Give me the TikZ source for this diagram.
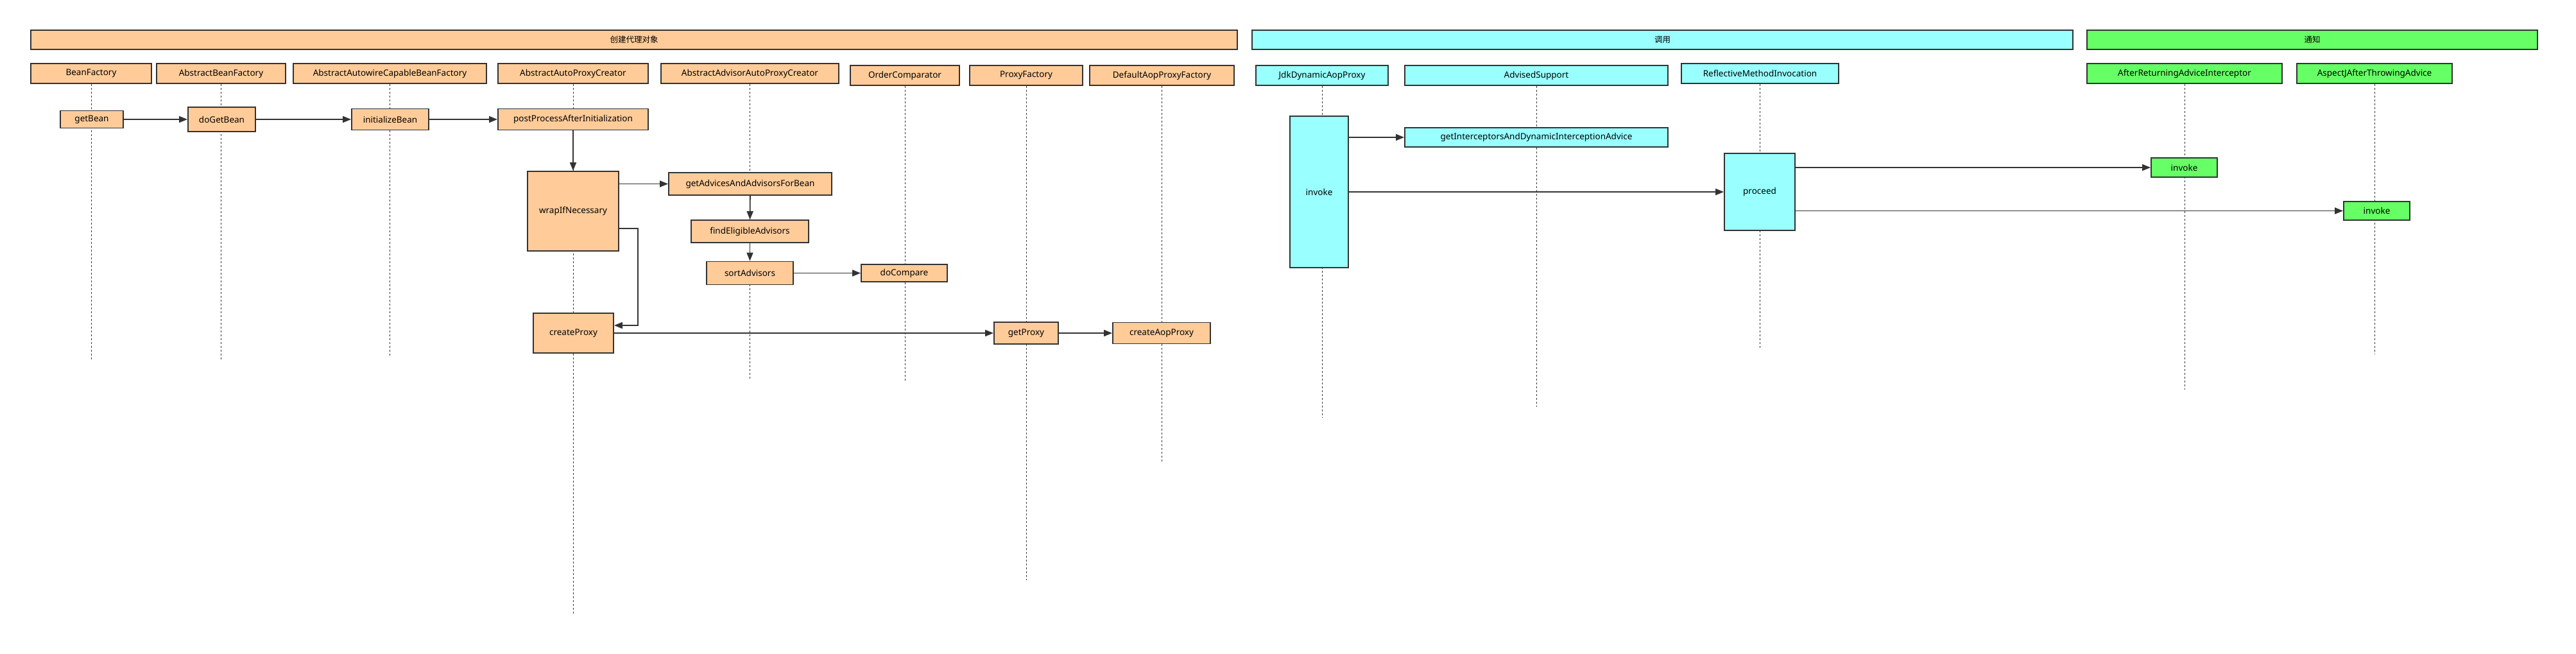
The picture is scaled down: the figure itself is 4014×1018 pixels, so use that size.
\documentclass[tikz,border=0pt]{standalone}
\usepackage{fontspec}
\setmainfont{Noto Sans}
\newfontfamily\cjk{Noto Sans CJK SC}
\usetikzlibrary{arrows.meta}
\definecolor{org}{HTML}{FFCC99}
\definecolor{cyn}{HTML}{99FFFF}
\definecolor{grn}{HTML}{66FF66}
\definecolor{ln}{HTML}{333333}

\begin{document}
\begin{tikzpicture}[
  x=1pt,y=-1pt,
  >={Triangle[length=13pt,width=10pt]},
  box/.style={draw=ln,line width=1.8pt,inner sep=0pt,align=center,
              font=\fontsize{13.5}{15}\selectfont},
  bar/.style={box,minimum height=30,font=\cjk\fontsize{12.5}{15}\selectfont},
  hdr/.style={box,minimum height=31},
  arr/.style={->,draw=ln,line width=1.8pt},
  life/.style={draw=ln,line width=1pt,dash pattern=on 3pt off 3pt}
]
\useasboundingbox (0,0) rectangle (4014,1018);
% section bars
\node[bar,fill=org,minimum width=1880] (tCreate) at (988,62) {创建代理对象};
\node[bar,fill=cyn,minimum width=1279] (tCall) at (2590.5,62) {调用};
\node[bar,fill=grn,minimum width=702] (tAdvice) at (3603,62) {通知};
% lifeline heads
\node[hdr,fill=org,minimum width=188] (bf) at (142,114.5) {BeanFactory};
\node[hdr,fill=org,minimum width=201] (abf) at (344.5,114.5) {AbstractBeanFactory};
\node[hdr,fill=org,minimum width=301] (aacbf) at (607.5,114.5) {AbstractAutowireCapableBeanFactory};
\node[hdr,fill=org,minimum width=234] (aapc) at (893,114.5) {AbstractAutoProxyCreator};
\node[hdr,fill=org,minimum width=277] (aaapc) at (1168.5,114.5) {AbstractAdvisorAutoProxyCreator};
\node[hdr,fill=org,minimum width=170] (oc) at (1410,117.5) {OrderComparator};
\node[hdr,fill=org,minimum width=176] (pf) at (1599,117.5) {ProxyFactory};
\node[hdr,fill=org,minimum width=225] (dapf) at (1810.5,117.5) {DefaultAopProxyFactory};
\node[hdr,fill=cyn,minimum width=206] (jdk) at (2060,117.5) {JdkDynamicAopProxy};
\node[hdr,fill=cyn,minimum width=410] (as) at (2394,117.5) {AdvisedSupport};
\node[hdr,fill=cyn,minimum width=245] (rmi) at (2742.5,114.5) {ReflectiveMethodInvocation};
\node[hdr,fill=grn,minimum width=304] (arai) at (3404,114.5) {AfterReturningAdviceInterceptor};
\node[hdr,fill=grn,minimum width=242] (ajata) at (3700,114.5) {AspectJAfterThrowingAdvice};
% lifelines
\coordinate (bfE) at (142,561);
\coordinate (abfE) at (344.5,561);
\coordinate (aacbfE) at (607.5,556);
\coordinate (aapcE) at (893,956);
\coordinate (aaapcE) at (1168.5,592);
\coordinate (ocE) at (1410,595);
\coordinate (pfE) at (1599,904);
\coordinate (dapfE) at (1810.5,719);
\coordinate (jdkE) at (2060,650);
\coordinate (asE) at (2394,634);
\coordinate (rmiE) at (2742.5,542);
\coordinate (araiE) at (3404,607);
\coordinate (ajataE) at (3700,552);
\draw[life] (bf) -- (bfE);
\draw[life] (abf) -- (abfE);
\draw[life] (aacbf) -- (aacbfE);
\draw[life] (aapc) -- (aapcE);
\draw[life] (aaapc) -- (aaapcE);
\draw[life] (oc) -- (ocE);
\draw[life] (pf) -- (pfE);
\draw[life] (dapf) -- (dapfE);
\draw[life] (jdk) -- (jdkE);
\draw[life] (as) -- (asE);
\draw[life] (rmi) -- (rmiE);
\draw[life] (arai) -- (araiE);
\draw[life] (ajata) -- (ajataE);
% creating the proxy
\node[box,fill=org,minimum width=98,minimum height=27] (getBean) at (143,186) {getBean};
\node[box,fill=org,minimum width=105,minimum height=38] (doGetBean) at (345.5,186) {doGetBean};
\node[box,fill=org,minimum width=120,minimum height=33] (initBean) at (608,186) {initializeBean};
\node[box,fill=org,minimum width=234,minimum height=33] (postProc) at (893,186) {postProcessAfterInitialization};
\node[box,fill=org,minimum width=142,minimum height=124] (wrap) at (893,329) {wrapIfNecessary};
\node[box,fill=org,minimum width=254,minimum height=35] (getAdv) at (1169,286.5) {getAdvicesAndAdvisorsForBean};
\node[box,fill=org,minimum width=183,minimum height=35] (findElig) at (1168.5,360.5) {findEligibleAdvisors};
\node[box,fill=org,minimum width=135,minimum height=36] (sortAdv) at (1168.5,425.5) {sortAdvisors};
\node[box,fill=org,minimum width=134,minimum height=27] (doComp) at (1409,425.5) {doCompare};
\node[box,fill=org,minimum width=125,minimum height=62] (createProxy) at (893.5,519) {createProxy};
\node[box,fill=org,minimum width=100,minimum height=34] (getProxy) at (1599,519) {getProxy};
\node[box,fill=org,minimum width=152,minimum height=33] (createAop) at (1810,519) {createAopProxy};
\draw[arr] (getBean) -- (doGetBean);
\draw[arr] (doGetBean) -- (initBean);
\draw[arr] (initBean) -- (postProc);
\draw[arr] (postProc) -- (wrap);
\draw[arr] (wrap.east |- getAdv) -- (getAdv);
\draw[arr] (getAdv) -- (findElig);
\draw[arr] (findElig) -- (sortAdv);
\draw[arr] (sortAdv) -- (doComp);
\draw[arr] ([yshift=-27pt]wrap.east) -- ++(29,0) |- ([yshift=12pt]createProxy.east);
\draw[arr] (createProxy) -- (getProxy);
\draw[arr] (getProxy) -- (createAop);
% calling
\node[box,fill=cyn,minimum width=91,minimum height=236] (invoke) at (2055.5,299) {invoke};
\node[box,fill=cyn,minimum width=410,minimum height=30] (getIntc) at (2394,214) {getInterceptorsAndDynamicInterceptionAdvice};
\node[box,fill=cyn,minimum width=110,minimum height=120] (proceed) at (2742,299) {proceed};
\draw[arr] (invoke.east |- getIntc) -- (getIntc);
\draw[arr] (invoke) -- (proceed);
% advice
\node[box,fill=grn,minimum width=103,minimum height=30] (invokeAr) at (3403.5,261) {invoke};
\node[box,fill=grn,minimum width=103,minimum height=29] (invokeAt) at (3703.5,328.5) {invoke};
\draw[arr] (proceed.east |- invokeAr) -- (invokeAr);
\draw[arr] (proceed.east |- invokeAt) -- (invokeAt);
\end{tikzpicture}
\end{document}
